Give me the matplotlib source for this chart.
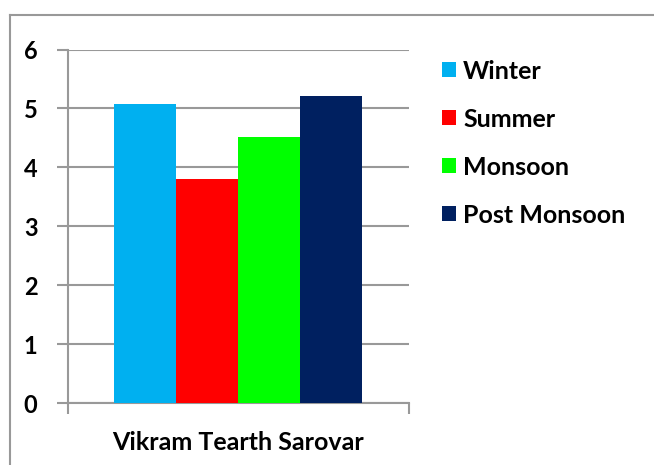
import matplotlib.pyplot as plt
from matplotlib.lines import Line2D

plt.rcParams['font.family'] = ['Lato', 'DejaVu Sans']
plt.rcParams['font.weight'] = 'bold'

site = 'Vikram Tearth Sarovar'
seasons = ['Winter', 'Summer', 'Monsoon', 'Post Monsoon']
values = [5.07, 3.81, 4.51, 5.21]
colors = ['#00B0F0', '#FF0000', '#00FF00', '#002060']

fig = plt.figure(figsize=(6.54, 4.65), dpi=100)
ax = fig.add_axes([0.104, 0.1333, 0.521, 0.7602])

w = 0.182
for i, (s, v, c) in enumerate(zip(seasons, values, colors)):
    ax.bar((i - 1.5) * w, v, width=w, color=c, label=s, zorder=3)

ax.set_xlim(-0.5, 0.5)
ax.set_ylim(0, 6)
ax.set_yticks(range(7))
ax.yaxis.grid(True, color='#999999', linewidth=1.5, zorder=0)
for sp in ['top', 'right']:
    ax.spines[sp].set_visible(False)
for sp in ['left', 'bottom']:
    ax.spines[sp].set_color('#999999')
    ax.spines[sp].set_linewidth(1.5)
ax.tick_params(axis='y', length=8, width=1.5, color='#999999', labelsize=17, pad=14)
ax.set_xticks([-0.5, 0.5], ['', ''])
ax.tick_params(axis='x', which='major', length=8, width=1.5, color='#999999')
ax.set_xticks([0], [site], minor=True)
ax.tick_params(axis='x', which='minor', length=0, labelsize=18, pad=20)

fig.legend(loc='upper left', bbox_to_anchor=(0.641, 0.92), frameon=False,
           fontsize=18, handlelength=0.56, handleheight=0.56, handletextpad=0.3,
           labelspacing=1.0)

# outer frame
fig.add_artist(Line2D([0.0153, 1.0], [0.968, 0.968], color='#999999', lw=1.5))
fig.add_artist(Line2D([0.0153, 0.0153], [0.0, 0.968], color='#999999', lw=1.5))

fig.savefig('out.png', dpi=100)
